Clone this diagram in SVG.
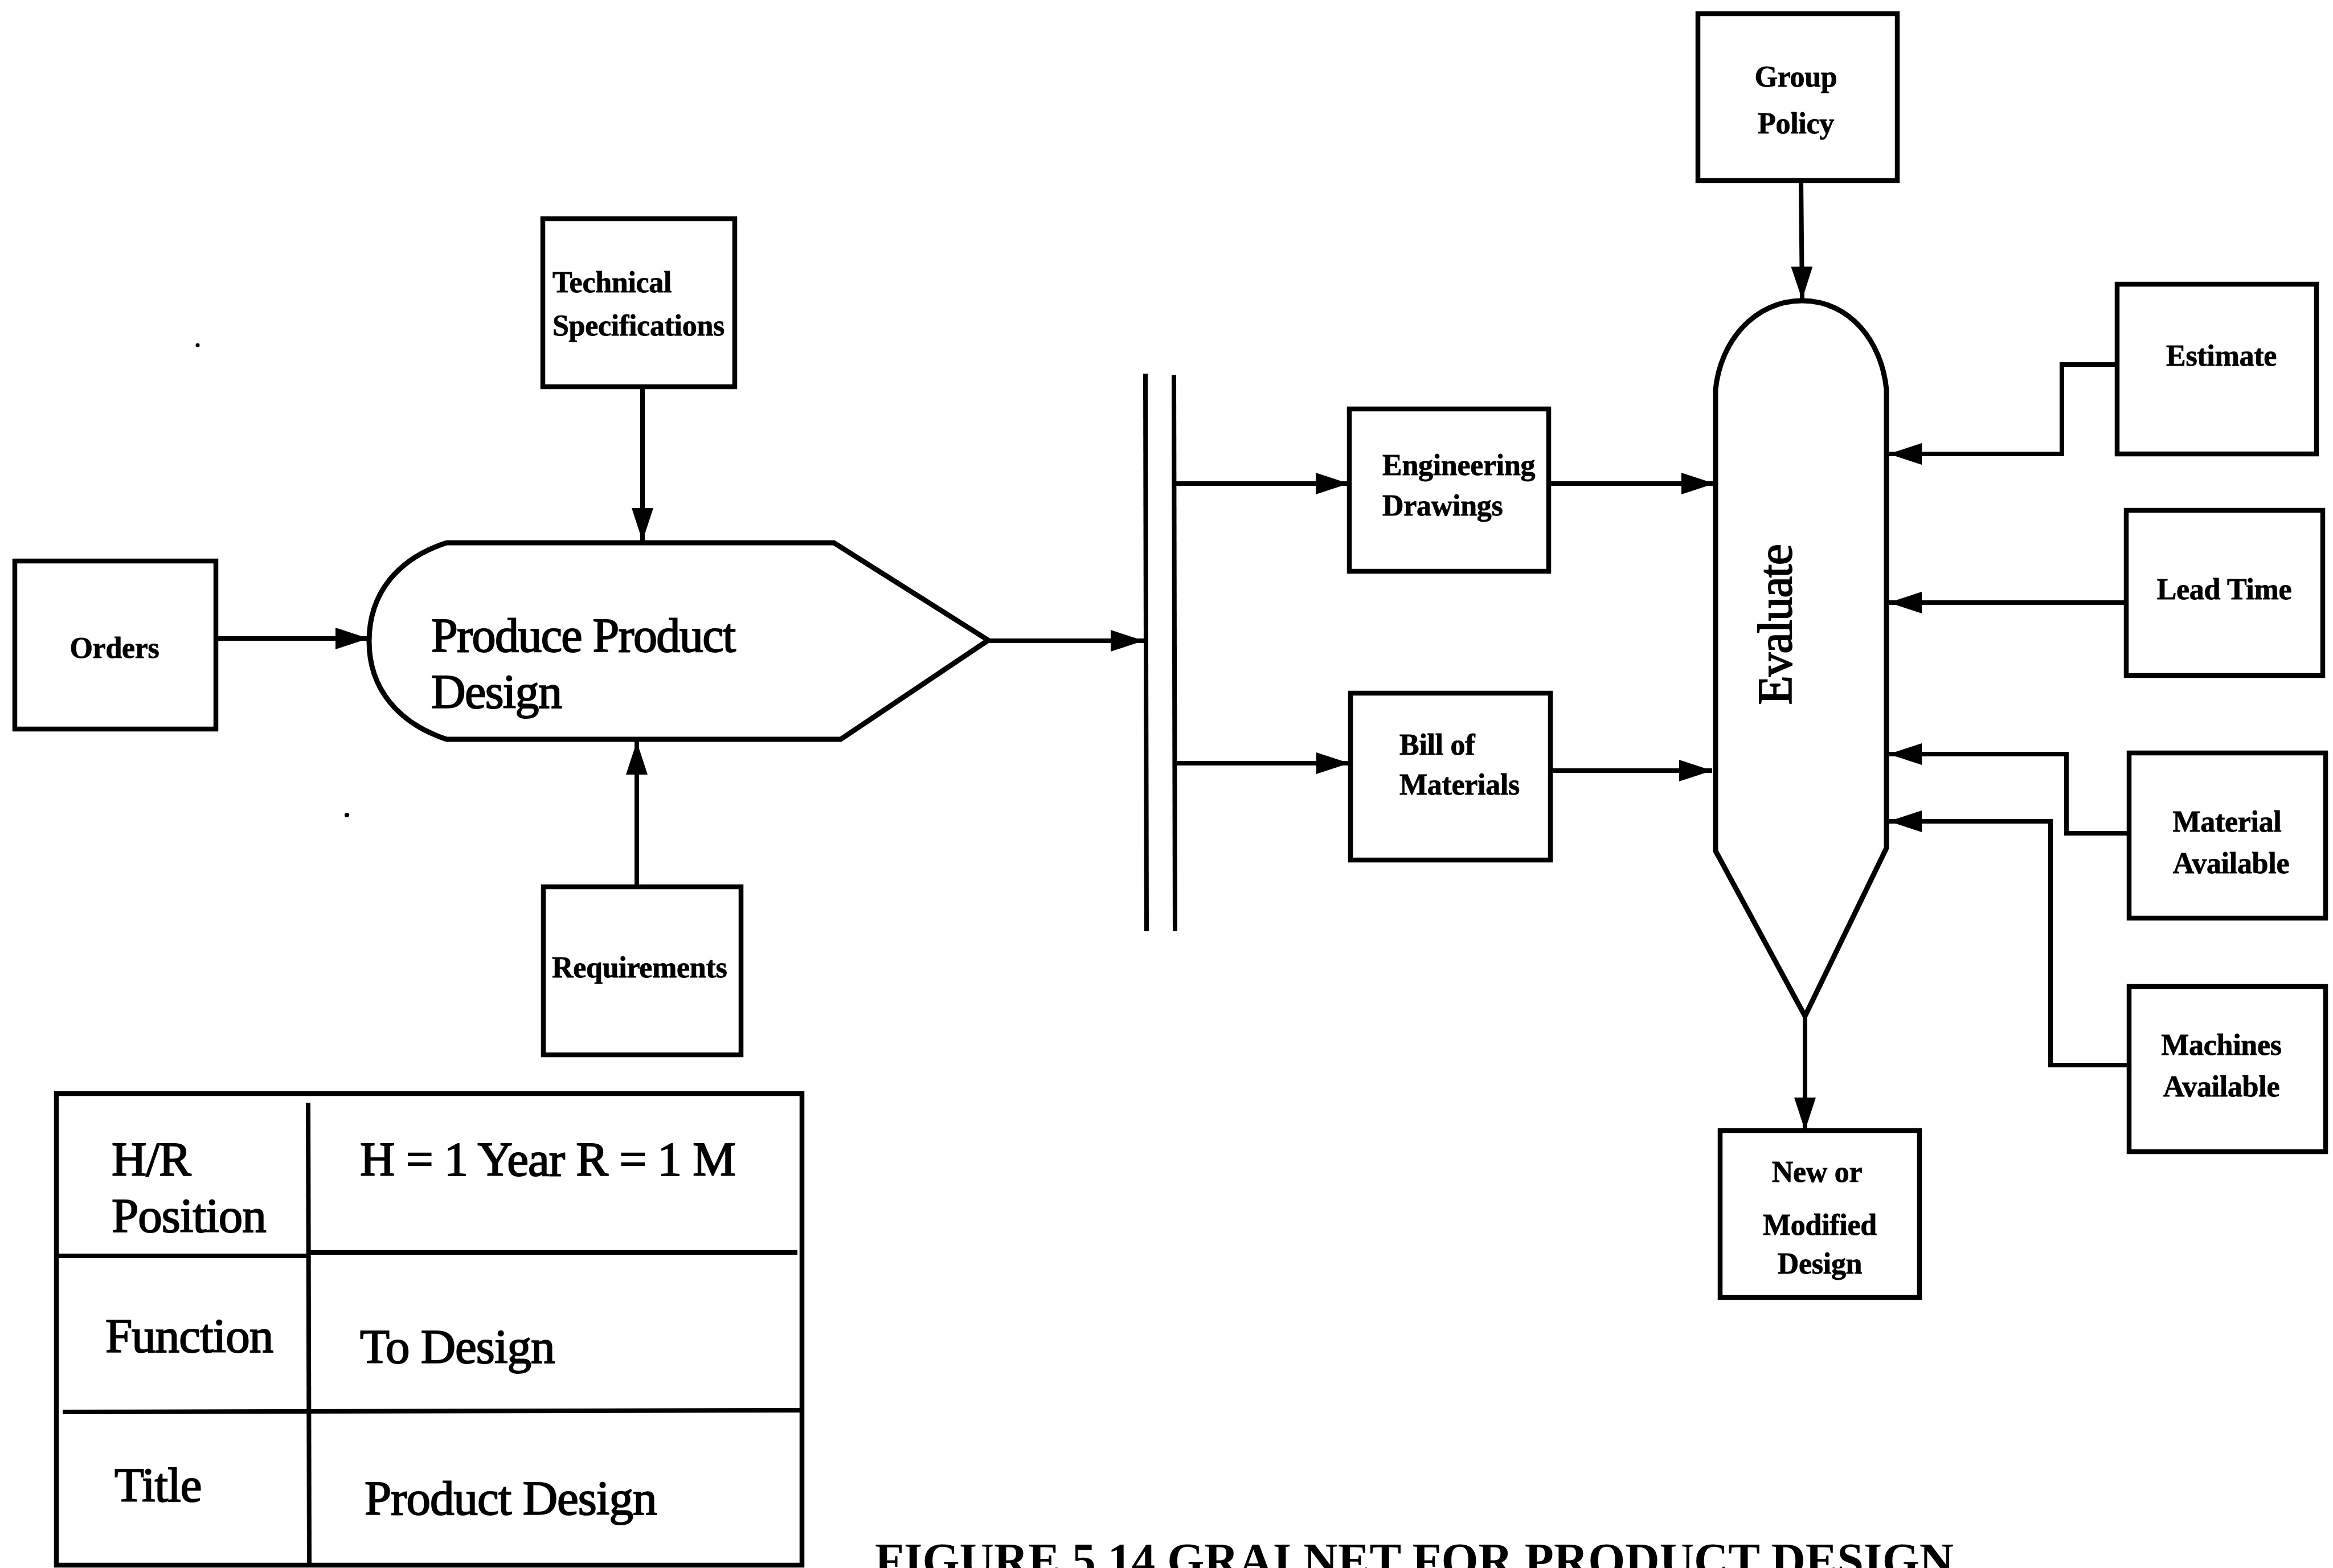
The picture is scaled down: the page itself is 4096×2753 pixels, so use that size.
<svg xmlns="http://www.w3.org/2000/svg" width="4096" height="2753" viewBox="0 0 4096 2753">
  <defs>
    <marker id="arrow" markerUnits="userSpaceOnUse" markerWidth="64" markerHeight="42" refX="58" refY="19" orient="auto">
      <path d="M0,0 L58,19 L0,38 z" fill="#000"/>
    </marker>
    <style>
      .box { fill: #fff; stroke: #000; stroke-width: 8.5; }
      .shape { fill: #fff; stroke: #000; stroke-width: 9; stroke-linejoin: miter; }
      .line { fill: none; stroke: #000; stroke-width: 8; }
      .arr { fill: none; stroke: #000; stroke-width: 8; marker-end: url(#arrow); }
      .lbl { font-family: "Liberation Serif", "Times New Roman", serif; font-weight: bold; font-size: 52px; fill: #000; stroke: #000; stroke-width: 0.8px; letter-spacing: -0.3px; }
      .mid { text-anchor: middle; }
      .big { font-family: "Liberation Serif", "Times New Roman", serif; font-size: 84px; fill: #000; stroke: #000; stroke-width: 2px; letter-spacing: -1.6px; }
      .tbl { font-family: "Liberation Serif", "Times New Roman", serif; font-size: 85px; fill: #000; stroke: #000; stroke-width: 2px; letter-spacing: -1px; }
      .cap { font-family: "Liberation Serif", "Times New Roman", serif; font-weight: bold; font-size: 84px; fill: #000; }
    </style>
  </defs>
  <rect width="4096" height="2753" fill="#fff"/>

  <!-- connectors -->
  <g id="connectors">
    <line class="arr" x1="1128" y1="679" x2="1128" y2="950"/>
    <line class="arr" x1="379" y1="1121" x2="647" y2="1121"/>
    <line class="arr" x1="1118" y1="1559" x2="1118" y2="1302"/>
    <line class="arr" x1="1737" y1="1125" x2="2008" y2="1125"/>
    <line class="arr" x1="2064" y1="849" x2="2368" y2="849"/>
    <line class="arr" x1="2064" y1="1340" x2="2369" y2="1340"/>
    <line class="arr" x1="2719" y1="849" x2="3010" y2="849"/>
    <line class="arr" x1="2712" y1="1353" x2="3006" y2="1353"/>
    <line class="arr" x1="3162" y1="316" x2="3164" y2="526"/>
    <polyline class="arr" points="3717,640 3620,640 3620,797 3316,797"/>
    <line class="arr" x1="3733" y1="1058" x2="3316" y2="1058"/>
    <polyline class="arr" points="3738,1463 3628,1463 3628,1324 3316,1324"/>
    <polyline class="arr" points="3738,1870 3600,1870 3600,1442 3316,1442"/>
    <line class="arr" x1="3169" y1="1784" x2="3169" y2="1985"/>
  </g>

  <!-- split bar -->
  <g id="bar">
    <line class="line" x1="2011" y1="656" x2="2013" y2="1635"/>
    <line class="line" x1="2061" y1="658" x2="2063" y2="1635"/>
  </g>

  <g id="technical-specifications">
    <rect class="box" x="953" y="384" width="337" height="295"/>
    <text class="lbl" x="970" y="513">Technical</text>
    <text class="lbl" x="970" y="589">Specifications</text>
  </g>

  <g id="orders">
    <rect class="box" x="26" y="985" width="353" height="295"/>
    <text class="lbl mid" x="201" y="1155">Orders</text>
  </g>

  <g id="produce-product-design">
    <path class="shape" d="M784,953 L1464,953 L1735,1124 L1476,1298 L784,1298 C700,1270 648,1210 648,1126 C648,1040 700,980 784,953 Z"/>
    <text class="big" x="757" y="1144">Produce Product</text>
    <text class="big" x="757" y="1243">Design</text>
  </g>

  <g id="requirements">
    <rect class="box" x="954" y="1557" width="347" height="295"/>
    <text class="lbl" x="969" y="1716">Requirements</text>
  </g>

  <g id="engineering-drawings">
    <rect class="box" x="2369" y="718" width="350" height="285"/>
    <text class="lbl" x="2427" y="834">Engineering</text>
    <text class="lbl" x="2427" y="905">Drawings</text>
  </g>

  <g id="bill-of-materials">
    <rect class="box" x="2371" y="1217" width="351" height="293"/>
    <text class="lbl" x="2457" y="1325">Bill of</text>
    <text class="lbl" x="2457" y="1395">Materials</text>
  </g>

  <g id="group-policy">
    <rect class="box" x="2981" y="24" width="350" height="293"/>
    <text class="lbl mid" x="3153" y="152">Group</text>
    <text class="lbl mid" x="3153" y="234">Policy</text>
  </g>

  <g id="evaluate">
    <path class="shape" d="M3012,684 C3020,600 3080,528 3164,528 C3248,528 3304,600 3312,684 L3312,1489 L3169,1784 L3012,1494 Z"/>
    <text class="big mid" transform="translate(3145,1097) rotate(-90)" x="0" y="0">Evaluate</text>
  </g>

  <g id="estimate">
    <rect class="box" x="3717" y="499" width="350" height="298"/>
    <text class="lbl mid" x="3900" y="642">Estimate</text>
  </g>

  <g id="lead-time">
    <rect class="box" x="3733" y="896" width="345" height="290"/>
    <text class="lbl mid" x="3905" y="1052">Lead Time</text>
  </g>

  <g id="material-available">
    <rect class="box" x="3738" y="1322" width="345" height="290"/>
    <text class="lbl mid" x="3910" y="1460">Material</text>
    <text class="lbl mid" x="3917" y="1533">Available</text>
  </g>

  <g id="machines-available">
    <rect class="box" x="3738" y="1732" width="345" height="290"/>
    <text class="lbl mid" x="3900" y="1852">Machines</text>
    <text class="lbl mid" x="3900" y="1925">Available</text>
  </g>

  <g id="new-or-modified-design">
    <rect class="box" x="3020" y="1985" width="350" height="293"/>
    <text class="lbl mid" x="3190" y="2075">New or</text>
    <text class="lbl mid" x="3195" y="2168">Modified</text>
    <text class="lbl mid" x="3195" y="2236">Design</text>
  </g>

  <!-- description table -->
  <g id="table">
    <rect class="box" x="99" y="1920" width="1309" height="828"/>
    <line class="line" x1="541" y1="1936" x2="543" y2="2748"/>
    <line class="line" x1="99" y1="2205" x2="541" y2="2205"/>
    <line class="line" x1="541" y1="2199" x2="1400" y2="2199"/>
    <line class="line" x1="110" y1="2479" x2="1408" y2="2476"/>
    <text class="tbl" x="196" y="2064">H/R</text>
    <text class="tbl" x="196" y="2163">Position</text>
    <text class="tbl" x="632" y="2064">H = 1 Year R = 1 M</text>
    <text class="tbl" x="185" y="2374">Function</text>
    <text class="tbl" x="632" y="2393">To Design</text>
    <text class="tbl" x="201" y="2636">Title</text>
    <text class="tbl" x="640" y="2659">Product Design</text>
  </g>

  <!-- stray specks -->
  <circle cx="347" cy="606" r="3.5" fill="#000"/>
  <circle cx="609" cy="1431" r="4" fill="#000"/>

  <text class="cap" x="1536" y="2768" textLength="1894" lengthAdjust="spacingAndGlyphs">FIGURE 5.14 GRAI NET FOR PRODUCT DESIGN</text>
</svg>
